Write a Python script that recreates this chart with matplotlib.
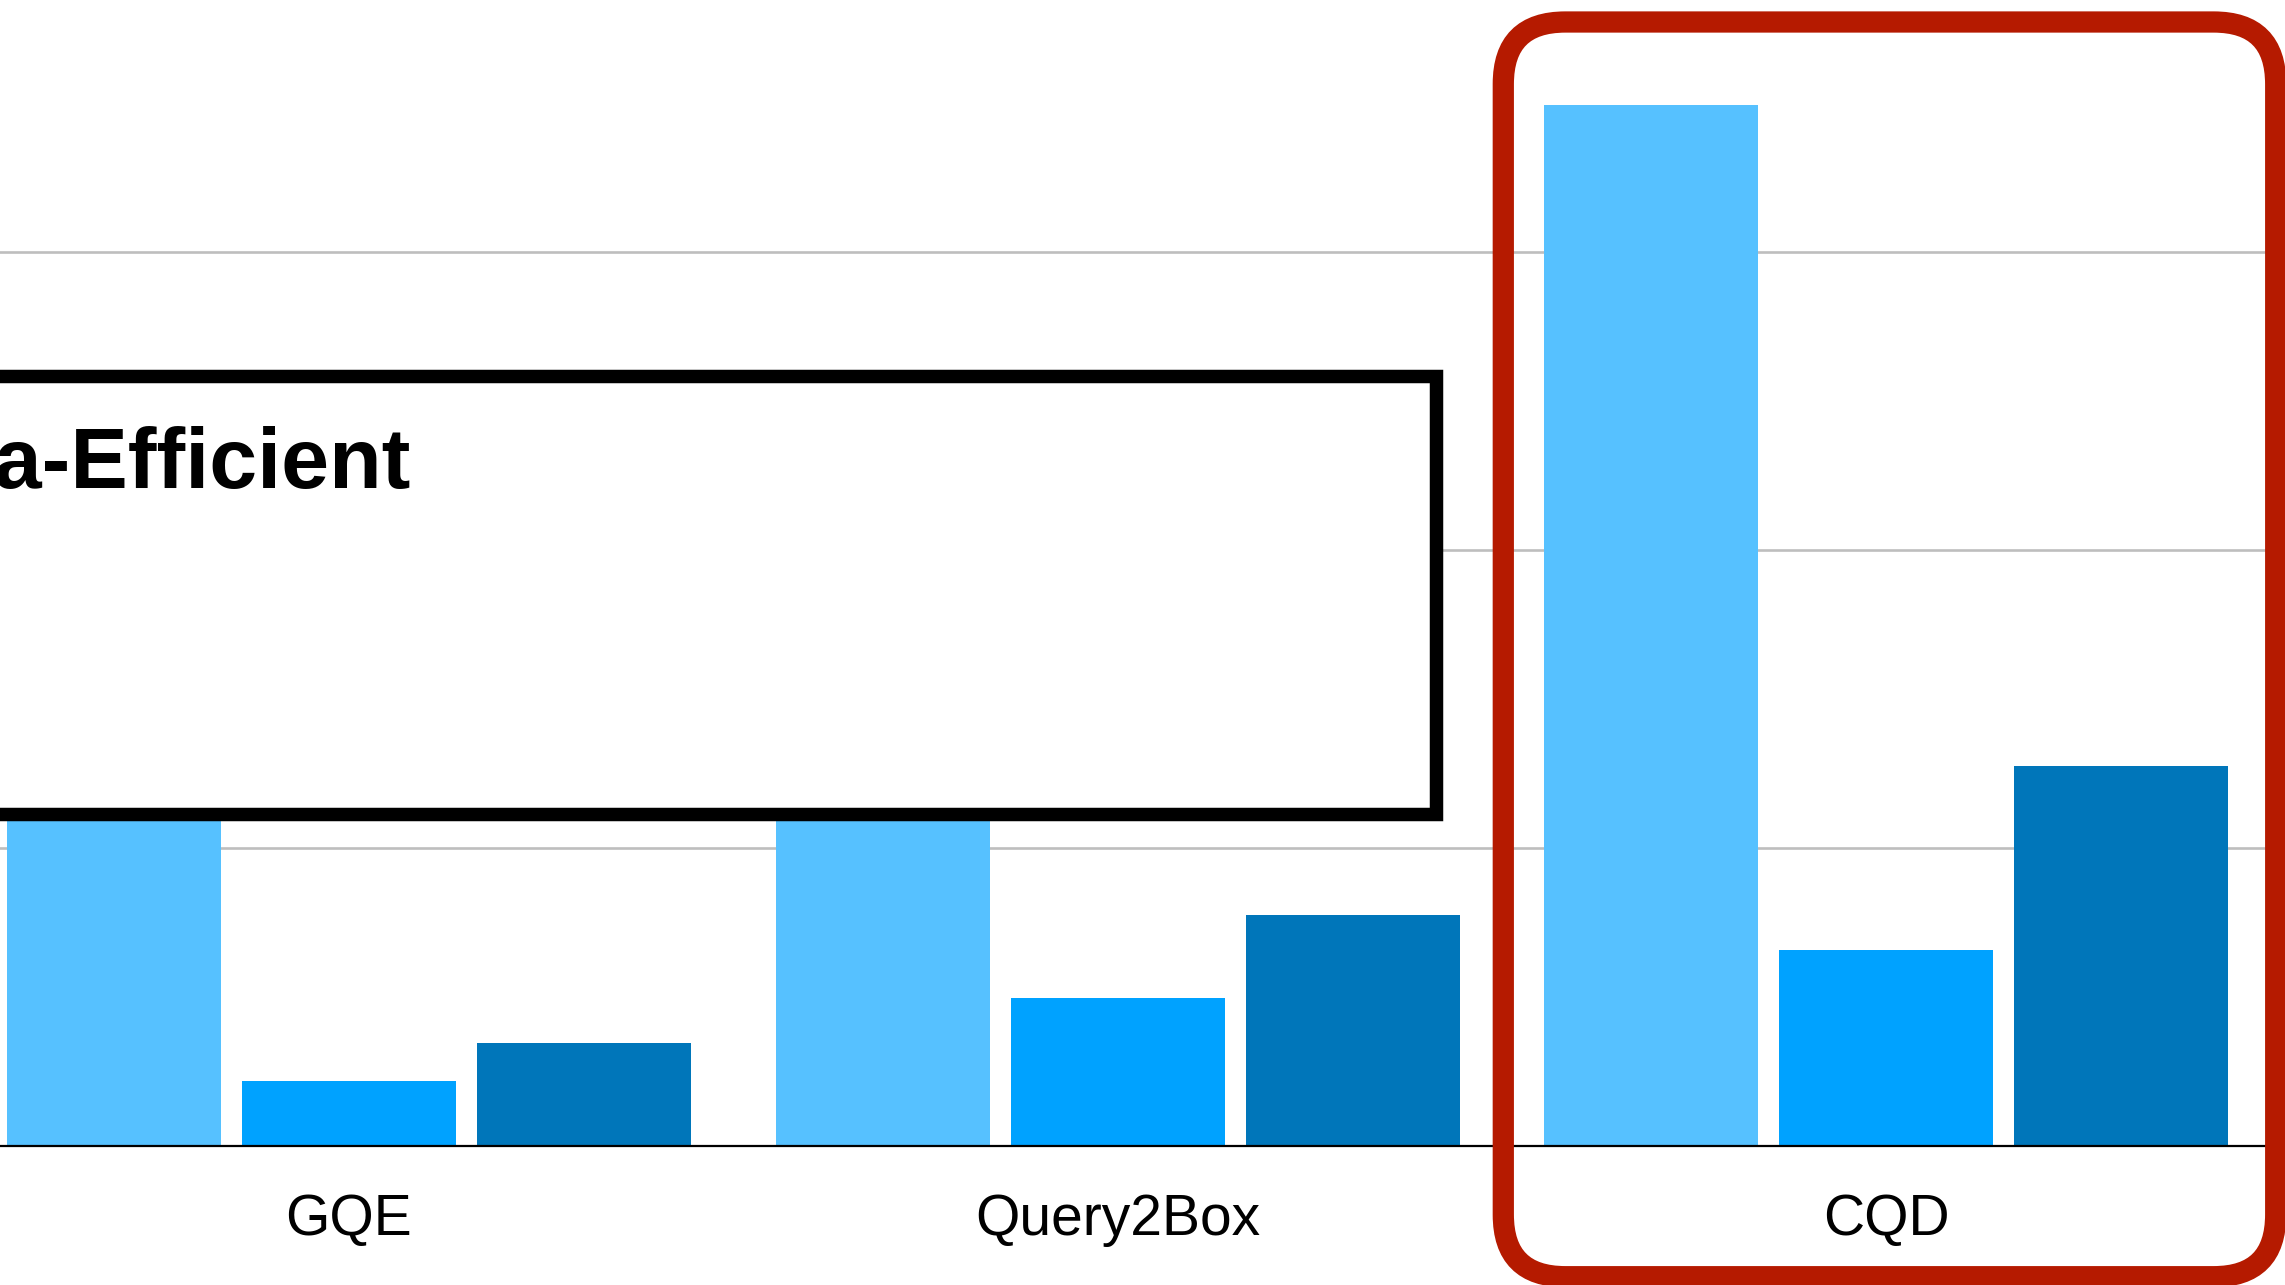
import matplotlib
matplotlib.use("Agg")
import matplotlib.pyplot as plt
import matplotlib.transforms as mtrans
from matplotlib.patches import Rectangle, FancyBboxPatch

plt.rcParams['font.family'] = ['Liberation Sans', 'DejaVu Sans']

# data (one grid step = 10)
methods = ["GQE", "Query2Box", "CQD"]
light_vals = [16.0, 20.0, 34.95]   # first two hidden behind the text box
mid_vals = [2.17, 4.94, 6.57]
dark_vals = [3.44, 7.74, 12.75]
bar_colors = ["#56C1FF", "#00A2FF", "#0076BA"]
grid_ticks = [10, 20, 30]
box_text = "Data-Efficient"

W, H, DPI = 2285, 1285, 100
fig = plt.figure(figsize=(W / DPI, H / DPI), dpi=DPI)

# main axes: baseline at 1145.5 px from top, axes spans to figure top
base_px = 1145.5
ax = fig.add_axes([0, (H - base_px) / H, 1, base_px / H])
step_px = 297.7
ax.set_ylim(0, 10 * base_px / step_px)

group_px = 768.5
x0_px = 349
ax.set_xlim(-x0_px / group_px, (W - x0_px) / group_px)

pitch = 235 / group_px
width = 214 / group_px
xs = list(range(len(methods)))
for k, vals in enumerate([light_vals, mid_vals, dark_vals]):
    ax.bar([x + (k - 1) * pitch for x in xs], vals, width=width,
           color=bar_colors[k], zorder=2, linewidth=0)

for g in grid_ticks:
    ax.axhline(g, color="#BEBEBE", lw=1.9, zorder=1)
ax.axhline(0, color="black", lw=1.6, zorder=3, clip_on=False)

for s in ax.spines.values():
    s.set_visible(False)
ax.set_xticks([])
ax.set_yticks([])

# category labels below the baseline
tr = mtrans.blended_transform_factory(ax.transData, fig.transFigure)
for x, name in zip(xs, methods):
    ax.text(x, (H - 1235) / H, name, transform=tr, ha="center", va="baseline",
            fontsize=41, color="black")

# overlay in pixel coordinates for the annotation boxes
ov = fig.add_axes([0, 0, 1, 1], zorder=5)
ov.set_xlim(0, W)
ov.set_ylim(H, 0)
ov.axis("off")
ov.patch.set_alpha(0)

ov.add_patch(Rectangle((-100, 375.8), 1435.7 + 100, 813.7 - 375.8,
                       facecolor="white", edgecolor="black", lw=9.7,
                       joinstyle="miter"))
ov.text(411, 487.7, box_text, ha="right", va="baseline", fontsize=62,
        fontweight="bold", color="black")

ov.add_patch(FancyBboxPatch((1503.3, 22), 2275.7 - 1503.3, 1276.7 - 22,
                            boxstyle="round,pad=0,rounding_size=62",
                            facecolor="none", edgecolor="#B51A00", lw=15.3))

fig.savefig("out.png", dpi=DPI)
